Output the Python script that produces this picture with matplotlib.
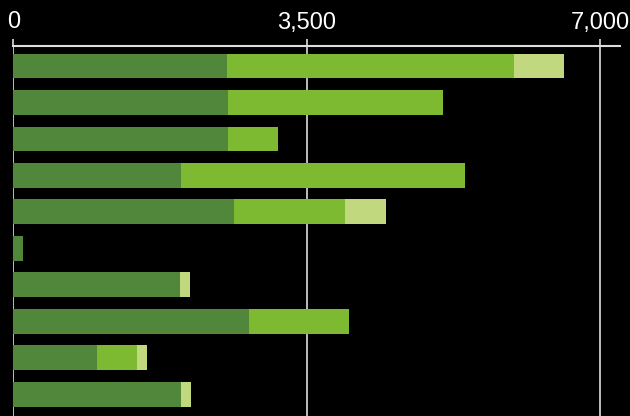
import matplotlib
matplotlib.use('Agg')
import matplotlib.pyplot as plt

# Data
rows = list(range(10))
dark_vals = [2553, 2565, 2565, 2004, 2637, 110, 1992, 2815, 1002, 2004]
mid_vals = [3424, 2565, 596, 3388, 1324, 0, 0, 1193, 477, 0]
light_vals = [596, 0, 0, 0, 489, 0, 120, 0, 120, 120]
tick_vals = [0, 3500, 7000]
tick_labels = ["0", "3,500", "7,000"]

color_dark = '#50873a'
color_mid = '#7db931'
color_light = '#c1d87e'

plt.rcParams["font.family"] = "Liberation Sans"

fig = plt.figure(figsize=(6.3, 4.16), dpi=100, facecolor='black')
ax = fig.add_axes([13 / 630, 0, 607 / 630, 370 / 416], facecolor='black')

# - Stacked bars
left_mid = [d for d in dark_vals]
left_light = [d + m for d, m in zip(dark_vals, mid_vals)]
ax.barh(rows, dark_vals, height=0.68, color=color_dark, zorder=3)
ax.barh(rows, mid_vals, left=left_mid, height=0.68, color=color_mid, zorder=3)
ax.barh(rows, light_vals, left=left_light, height=0.68, color=color_light, zorder=3)

# - Axes
ax.set_xlim(-5, 7240)
ax.set_ylim(9.6, -0.55)
ax.xaxis.tick_top()
ax.set_xticks(tick_vals)
ax.set_xticklabels(tick_labels, color='white', fontsize=17)
ax.tick_params(axis='x', length=5, width=1.2, color='#dddddd', pad=4)
ax.set_yticks([])
ax.grid(True, axis='x', color='#dddddd', linewidth=1.2, zorder=1)

for side in ['left', 'right', 'bottom']:
    ax.spines[side].set_visible(False)
ax.spines['top'].set_color('#dddddd')
ax.spines['top'].set_linewidth(1.5)

fig.savefig('out.png', dpi=100, facecolor='black')
